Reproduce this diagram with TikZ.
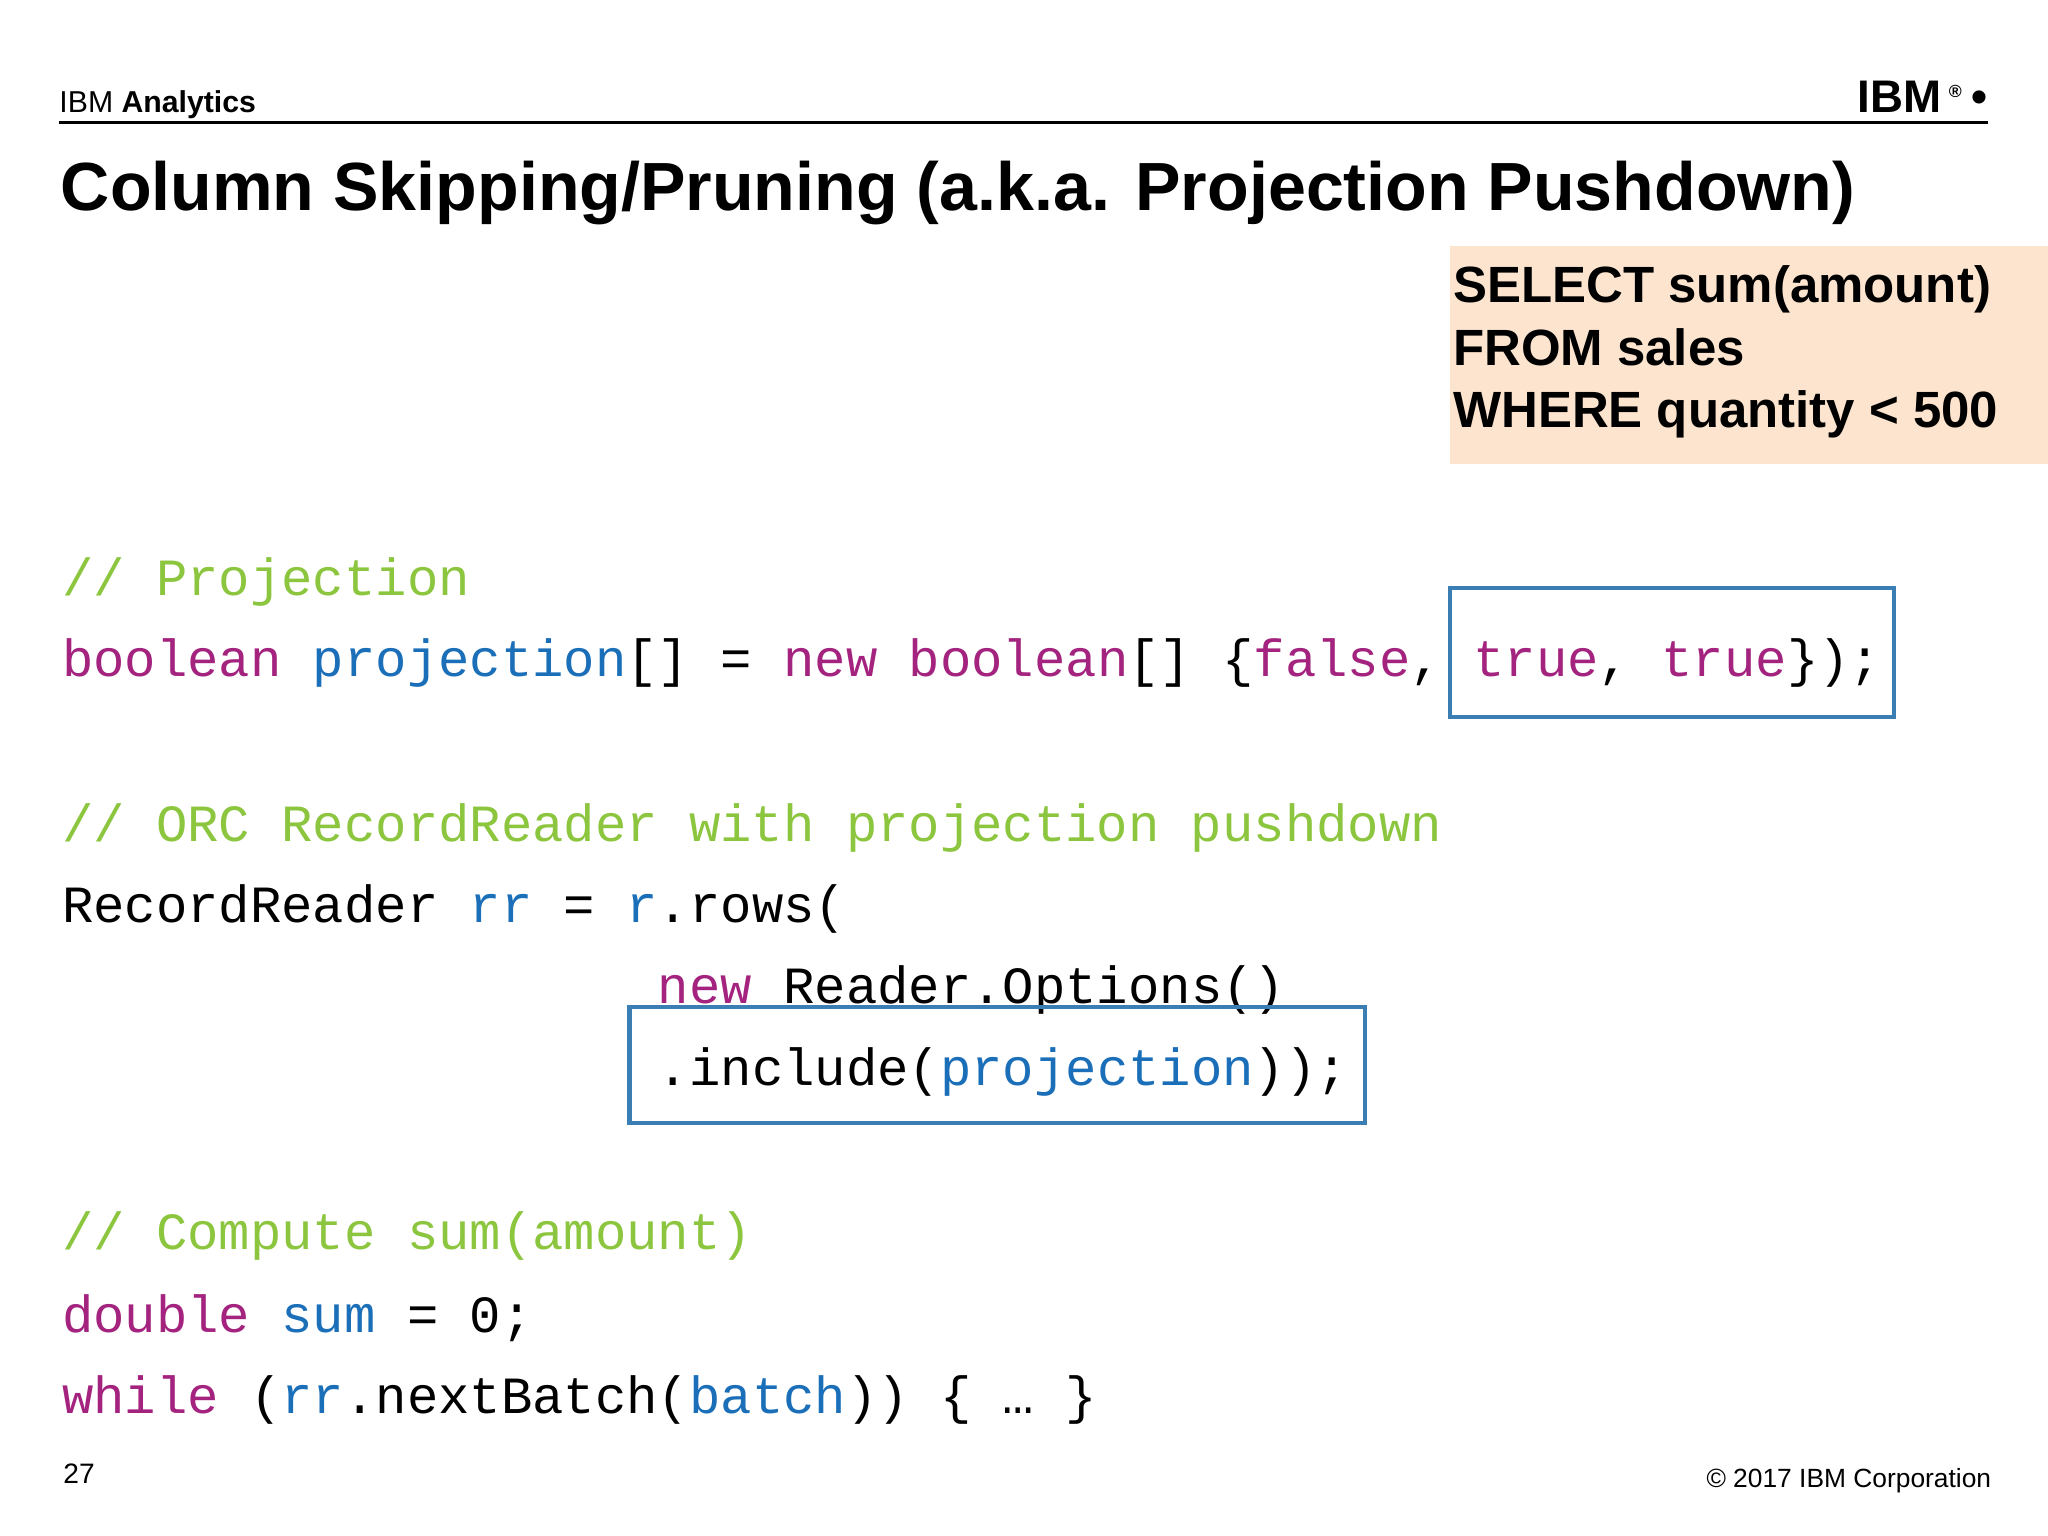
\documentclass[tikz,border=0pt]{standalone}
\usepackage{fontspec}
\setmainfont{Liberation Sans}
\newfontfamily\codef{Liberation Mono}
\definecolor{kw}{HTML}{A3237F}
\definecolor{bl}{HTML}{1B6FB8}
\definecolor{cm}{HTML}{8CC63F}
\definecolor{bx}{HTML}{3A7EB4}
\definecolor{sq}{HTML}{FCE4CF}
\newcommand{\K}[1]{\textcolor{kw}{#1}}
\newcommand{\B}[1]{\textcolor{bl}{#1}}
\newcommand{\C}[1]{\textcolor{cm}{#1}}
\begin{document}
\begin{tikzpicture}[x=0.013061cm,y=-0.013061cm,
  code/.style={anchor=base west,inner sep=0pt,font=\codef\fontsize{14.87}{18}\selectfont},
  hl/.style={draw=bx,line width=1.2pt}]
\useasboundingbox (0,0) rectangle (1568,1176);
\fill[white] (0,0) rectangle (1568,1176);
\node[anchor=base west,inner sep=0pt,font=\fontsize{8.6}{10}\selectfont] (hdr) at (45,86) {IBM \textbf{Analytics}};
\draw[line width=0.8pt] (45,94) -- (1522,94);
\node[anchor=base east,inner sep=0pt,font=\bfseries\fontsize{13}{14}\selectfont] (logo) at (1522,86) {IBM\,\textsuperscript{\tiny\textregistered}\,\textbullet};
\node[anchor=base west,inner sep=0pt,font=\bfseries\fontsize{19.4}{24}\selectfont] (title) at (46,161) {Column Skipping/Pruning (a.k.a. Projection Pushdown)};
\fill[sq] (1110,188) rectangle (1568,355);
\node[anchor=north west,inner sep=0pt,align=left,font=\bfseries\fontsize{14.5}{17.8}\selectfont] (sql) at (1112,203) {SELECT sum(amount)\\FROM sales\\WHERE quantity < 500};
\node[code] (l1) at (47,456) {\C{// Projection}};
\node[code] (l2) at (47,518) {\K{boolean} \B{projection}[] = \K{new} \K{boolean}[] \{\K{false}, \K{true}, \K{true}\});};
\node[code] (l3) at (47,644) {\C{// ORC RecordReader with projection pushdown}};
\node[code] (l4) at (47,706) {RecordReader \B{rr} = \B{r}.rows(};
\node[code] (l5) at (47,768) {\phantom{RecordReader rr = r}\K{new} Reader.Options()};
\node[code] (l6) at (47,831) {\phantom{RecordReader rr = r}.include(\B{projection}));};
\node[code] (l7) at (47,957) {\C{// Compute sum(amount)}};
\node[code] (l8) at (47,1020) {\K{double} \B{sum} = 0;};
\node[code] (l9) at (47,1082) {\K{while} (\B{rr}.nextBatch(\B{batch})) \{ … \}};
\draw[hl] (1110,450) rectangle (1450,549);
\draw[hl] (482,771) rectangle (1045,860);
\node[anchor=base west,inner sep=0pt,font=\fontsize{8}{9}\selectfont] (pg) at (48,1136) {27};
\node[anchor=base east,inner sep=0pt,font=\fontsize{7.5}{9}\selectfont] (cp) at (1525,1139) {© 2017 IBM Corporation};
\end{tikzpicture}
\end{document}
